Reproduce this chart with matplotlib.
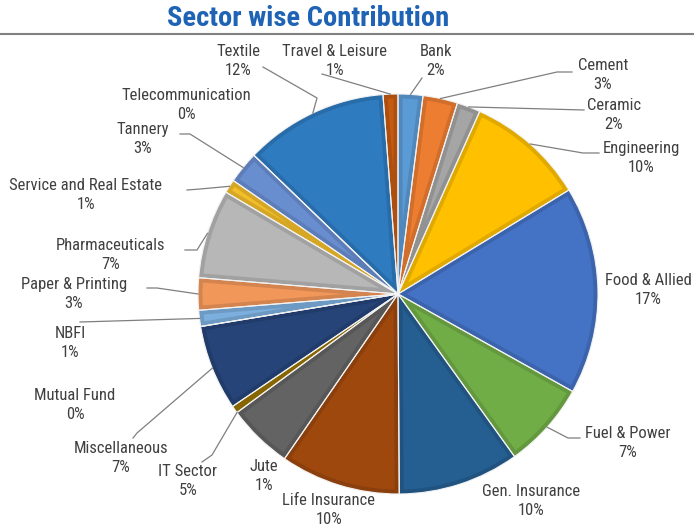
import numpy as np
import matplotlib.pyplot as plt
from matplotlib import colors as mcolors
from matplotlib import font_manager
from matplotlib.patches import Polygon

W, H = 694, 529

# prefer a narrow face if one is around
_have = {f.name for f in font_manager.fontManager.ttflist}
FONT = [f for f in ['Liberation Sans Narrow', 'Roboto Condensed', 'Liberation Sans']
        if f in _have] + ['DejaVu Sans']

# sector shares, clockwise from 12 o'clock
sectors = ["Bank", "Cement", "Ceramic", "Engineering", "Food & Allied",
           "Fuel & Power", "Gen. Insurance", "Life Insurance", "IT Sector", "Jute",
           "Miscellaneous", "Mutual Fund", "NBFI", "Paper & Printing",
           "Pharmaceuticals", "Service and Real Estate", "Tannery",
           "Telecommunication", "Textile", "Travel & Leisure"]
share = [2.0, 2.8, 1.9, 9.6, 16.8, 7.0, 9.8, 9.7, 5.3, 0.6,
         6.9, 0.0, 1.3, 2.6, 7.2, 1.1, 2.6, 0.0, 11.6, 1.2]
slice_colors = ["#5B9BD5", "#ED7D31", "#A5A5A5", "#FFC000", "#4472C4",
                "#70AD47", "#255E91", "#9E480E", "#636363", "#997300",
                "#264478", "#43682B", "#7CAFDD", "#F1975A", "#B7B7B7",
                "#F2BE2A", "#698ED0", "#8CC168", "#2E7BC0", "#C55A11"]

# label centres (px from top-left)
label_pos = {
    "Bank": (436, 61), "Cement": (603, 75), "Ceramic": (614, 115),
    "Engineering": (641, 158), "Food & Allied": (648, 290),
    "Fuel & Power": (628, 443), "Gen. Insurance": (531, 501),
    "Life Insurance": (329, 510), "IT Sector": (188, 481), "Jute": (264, 476),
    "Miscellaneous": (121, 458), "Mutual Fund": (75, 405), "NBFI": (70, 343),
    "Paper & Printing": (74, 294), "Pharmaceuticals": (111, 255),
    "Service and Real Estate": (86, 195), "Tannery": (143, 139),
    "Telecommunication": (186, 105), "Textile": (238, 61),
    "Travel & Leisure": (335, 61),
}

# leader lines: elbow points from the label side, plus where on the slice they land
leaders = {
    "Textile": ([(263, 67), (317, 98)], 0.5),
    "Travel & Leisure": ([(322, 74)], 0.5),
    "Bank": ([(422, 78)], 0.5),
    "Cement": ([(572, 72), (557, 72)], 0.5),
    "Ceramic": ([(584, 110)], 0.5),
    "Engineering": ([(599, 153), (583, 153)], 0.5),
    "Fuel & Power": ([(580, 438), (568, 438)], 0.5),
    "Tannery": ([(180, 134), (190, 134)], 0.5),
    "Service and Real Estate": ([(187, 190), (200, 189)], 0.5),
    "Pharmaceuticals": ([(185, 250), (197, 250)], 0.5),
    "Paper & Printing": ([(147, 288), (157, 288)], 0.5),
    "NBFI": ([(80, 322)], 0.5),
    "Miscellaneous": ([(133, 438), (137, 433)], 0.5),
    "IT Sector": ([(202, 462), (212, 455)], 1.0),
}

cx, cy, R = 398, H - 294, 200
RIM = 4.5


def darker(c, f=0.88):
    r, g, b = mcolors.to_rgb(c)
    return (r * f, g * f, b * f)


fig = plt.figure(figsize=(W / 100, H / 100), dpi=100)
ax = fig.add_axes([0, 0, 1, 1])

wedges, _ = ax.pie(share, colors=[darker(c) for c in slice_colors], startangle=90,
                   counterclock=False, radius=R, center=(cx, cy),
                   wedgeprops=dict(linewidth=0))

# lighter inset on top of each slice leaves a darker rim
for w, c in zip(wedges, slice_colors):
    t1, t2 = np.deg2rad(w.theta1), np.deg2rad(w.theta2)
    half = (t2 - t1) / 2
    if half <= 0 or RIM / np.sin(half) > 0.8 * (R - RIM):
        continue
    mid = (t1 + t2) / 2
    apex_r = RIM / np.sin(half)
    dlt = np.arcsin(RIM / (R - RIM))
    ang = np.linspace(t1 + dlt, t2 - dlt, 80)
    pts = [(cx + apex_r * np.cos(mid), cy + apex_r * np.sin(mid))]
    pts += list(zip(cx + (R - RIM) * np.cos(ang), cy + (R - RIM) * np.sin(ang)))
    ax.add_patch(Polygon(pts, closed=True, facecolor=c, edgecolor='none', zorder=2))

# thin light separators
sep, _ = ax.pie(share, startangle=90, counterclock=False, radius=R, center=(cx, cy),
                wedgeprops=dict(fill=False, edgecolor='#f2f2f2', linewidth=0.8))
for s in sep:
    s.set_zorder(3)

ax.set_xlim(0, W)
ax.set_ylim(0, H)
ax.set_aspect('equal')
ax.axis('off')

total = sum(share)
cum = np.cumsum([0] + share)
for i, name in enumerate(sectors):
    pct = int(round(share[i] / total * 100))
    x, y = label_pos[name]
    ax.text(x, H - y, f"{name}\n{pct}%", ha='center', va='center', fontsize=12,
            color='#404040', linespacing=1.3, family=FONT)
    if name in leaders:
        pts, frac = leaders[name]
        a = np.deg2rad(360 * (cum[i] + frac * share[i]) / total)
        end = (cx + R * np.sin(a), cy + R * np.cos(a))
        xs = [p[0] for p in pts] + [end[0]]
        ys = [H - p[1] for p in pts] + [end[1]]
        ax.plot(xs, ys, color='#7f7f7f', lw=0.9, zorder=4)

ax.plot([0, W], [H - 34, H - 34], color='#808080', lw=1.5)
ax.text(308, H - 18, "Sector wise Contribution", ha='center', va='center',
        fontsize=20.5, fontweight='bold', color='#1F63B5', family=FONT)

fig.savefig("out.png", dpi=100)
